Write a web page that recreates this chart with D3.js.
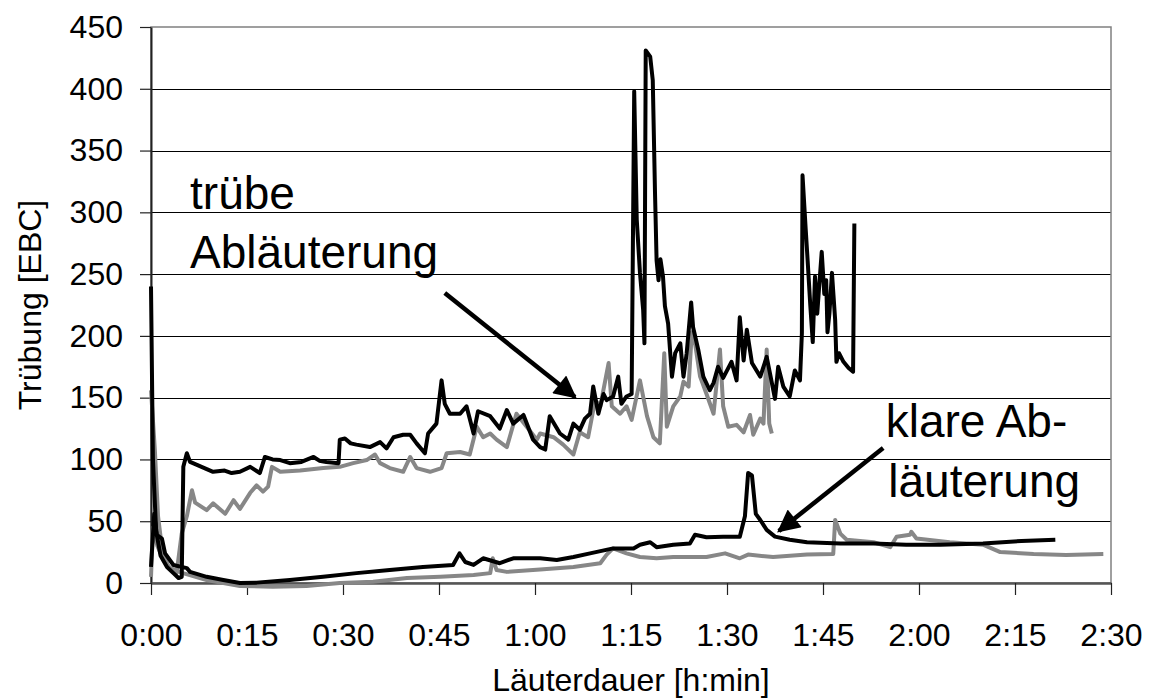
<!DOCTYPE html>
<html>
<head>
<meta charset="utf-8">
<script src="https://cdn.jsdelivr.net/npm/d3@7"></script>
<style>
  body { margin: 0; background: #fff; }
  text { font-family: "Liberation Sans", Arial, sans-serif; fill: #000; }
</style>
</head>
<body>
<div id="canvas"></div>
<script>
"use strict"

/* Configuration variables: drawing */
let svgWidth = 1153;
let svgHeight = 699;

let marginLeft = 151;
let marginRight = 42;
let marginTop = 27;
let marginBottom = 116;

// DATA: [minutes, EBC]
// trübe Abläuterung, black
let truebeBlack = [
  [0, 240], [0.3, 100], [0.8, 42], [1.5, 22], [2.5, 13], [3.5, 8], [4.3, 4], [4.8, 5],
  [5.05, 94], [5.6, 105], [6.1, 98], [7.9, 94], [9.7, 90], [11.5, 91], [12.6, 89], [13.9, 90], [15.5, 94],
  [17, 89], [17.8, 102], [19, 100], [20.2, 99.5], [21.7, 97], [23.5, 98], [25.4, 102], [26.3, 99], [27.4, 98], [29.3, 97],
  [29.5, 116], [30.3, 117], [31.2, 113], [32.1, 112], [34.2, 110], [35.8, 114], [36.8, 109], [37.9, 118],
  [39.4, 120], [40.5, 120], [41.5, 113], [42.8, 105], [43.3, 121], [44.6, 129], [45.4, 164],
  [45.9, 145], [46.7, 137], [48.3, 137], [49.3, 143], [50.4, 121], [51.1, 139], [53, 135],
  [54.5, 125], [55.6, 140], [56.6, 129], [58.2, 136], [59.7, 116], [60.8, 110], [61.6, 108],
  [62.3, 135], [63.9, 121], [65.2, 116], [66, 129], [67, 124], [67.8, 133], [68.6, 137],
  [69.1, 159], [69.9, 137], [70.7, 153], [71.2, 148], [72.2, 151], [73, 167], [73.5, 145],
  [74.3, 151], [75.1, 153], [75.5, 398], [75.9, 294], [76.4, 251], [76.9, 221], [77.1, 194],
  [77.3, 431], [78, 426], [78.4, 407], [78.75, 316], [79, 261], [79.3, 245], [79.6, 262],
  [80, 248], [80.3, 224], [80.8, 210], [81.4, 167], [81.9, 186], [82.7, 194], [83.2, 167],
  [83.7, 186], [84.4, 227], [84.7, 207], [85.5, 189], [86.3, 167], [87.3, 156], [87.9, 162],
  [88.6, 175], [89.4, 166], [90.7, 179], [91.5, 164], [92, 215], [92.6, 180], [93.1, 205],
  [93.9, 178], [95.2, 167], [96.2, 183], [96.7, 170], [97.5, 149], [98, 175], [98.8, 159],
  [99.8, 151], [100.6, 172], [101.4, 164], [101.7, 202], [101.8, 330], [102.3, 286], [102.6, 261],
  [103, 226], [103.4, 195], [103.75, 248], [104.1, 218], [104.4, 240], [104.8, 268], [105.2, 234],
  [105.5, 245], [105.7, 203], [106, 218], [106.4, 251], [106.9, 213], [107.1, 179], [107.5, 186],
  [108.2, 179], [109, 174], [109.7, 171], [109.9, 291]
];

// trübe Abläuterung, grey
let truebeGrey = [
  [0, 156], [0.6, 108], [1.1, 54], [1.7, 29], [2.7, 13], [4, 8], [4.8, 40], [5.6, 54],
  [6.4, 75], [6.9, 65], [8.7, 59], [9.7, 64.5], [11.6, 56], [12.9, 67], [13.9, 60], [15.5, 73],
  [16.5, 79], [17.5, 74], [18.3, 78], [18.9, 94], [20.2, 90], [23.3, 91], [26.9, 93], [29.5, 94],
  [31.6, 97], [33.7, 99.5], [35, 104], [35.8, 97], [37.3, 93], [39.4, 90], [40.5, 102], [41.5, 93],
  [43.6, 90], [45.4, 93], [46.2, 105], [48.3, 106], [49.8, 104], [50.9, 126.5], [51.9, 118],
  [53, 121], [54, 116], [55.6, 110], [57.1, 137], [58.7, 126.5], [60.3, 116], [60.8, 121],
  [62.9, 118], [64.4, 112], [66, 104], [67, 122], [68.3, 118], [69.4, 148], [70.2, 143],
  [71.5, 178], [72, 143], [73.3, 137], [74.3, 143], [75.1, 132], [76.4, 164], [77.5, 135],
  [78.5, 118], [79.5, 113], [80.2, 186], [80.6, 126.5], [81.6, 143], [82.7, 151], [83.2, 163],
  [84, 159], [84.5, 203], [85, 194], [85.8, 167], [86.8, 153], [87.9, 137], [88.9, 189],
  [89.4, 143], [90.2, 126.5], [91.5, 128], [92.6, 122], [93.6, 136], [94.1, 120], [95.2, 133],
  [95.7, 129], [96.2, 189], [96.6, 129], [97, 121]
];

// klare Abläuterung, black
let klarBlack = [
  [0, 13], [0.5, 56], [0.9, 39], [1.7, 36], [2.2, 24], [3.5, 14.6], [5.6, 12], [6.1, 9],
  [8.7, 5], [11.3, 2.4], [13.9, 0], [16.5, 0.3], [21.7, 2.4], [26.9, 5], [32.1, 8], [37.3, 10.5],
  [42.5, 13], [47.2, 14.6], [48.2, 24], [49.1, 17], [50.4, 14.6], [51.9, 20], [54.5, 16],
  [56.6, 20], [60.8, 20], [63.4, 18.6], [66, 21], [68.6, 24], [72.2, 28], [75.4, 28], [76.4, 31],
  [78, 33], [79, 29], [81.6, 31], [84.2, 32], [85, 39], [86.8, 37], [89.4, 37.5], [92, 37.5],
  [92.8, 54], [93.3, 89], [93.9, 87], [94.5, 56], [95.2, 51], [96.2, 43], [97.5, 37.5],
  [99.8, 35], [102.5, 33], [107.7, 32], [112.9, 32], [118, 31], [123.3, 31], [130, 32],
  [136, 34], [141.3, 35]
];

// klare Abläuterung, grey
let klarGrey = [
  [0, 5], [0.3, 45], [1, 30], [2, 18], [3, 12], [5, 8], [8.7, 2.4], [13.9, -2.4], [19, -3],
  [24.3, -2.4], [29.5, 0], [34.7, 1], [40, 4], [45.2, 5], [50.4, 6.5], [53, 8], [53.4, 20],
  [54, 10.5], [55.6, 9], [60.8, 11], [66, 13], [70.2, 16], [71.2, 23], [72.2, 28], [74.3, 24],
  [76.4, 21], [79, 20], [81.6, 21], [86.8, 21], [89.7, 24], [92, 20], [93.3, 23], [97.2, 21],
  [102.5, 23], [106.6, 23.5], [106.9, 51], [107.7, 40], [108.7, 35], [112.9, 33], [115.5, 29],
  [116.5, 37.5], [118.6, 39], [118.8, 41.5], [119.6, 36], [124.8, 33], [130, 31], [132.7, 25],
  [137.9, 23.5], [143, 22.7], [148.8, 23.5]
];

let yTicks = [0, 50, 100, 150, 200, 250, 300, 350, 400, 450];
let xTicks = [0, 15, 30, 45, 60, 75, 90, 105, 120, 135, 150];
let xTickLabels = ["0:00", "0:15", "0:30", "0:45", "1:00", "1:15", "1:30", "1:45", "2:00", "2:15", "2:30"];

// CANVAS SETUP
let svg = d3.select("#canvas")
  .append("svg")
  .attr("width", svgWidth)
  .attr("height", svgHeight);

svg.append("rect")
  .attr("width", svgWidth)
  .attr("height", svgHeight)
  .attr("fill", "white");

// scales
let xScale = d3.scaleLinear()
  .domain([0, 150])
  .range([marginLeft, svgWidth - marginRight]);

let yScale = d3.scaleLinear()
  .domain([0, 450])
  .range([svgHeight - marginBottom, marginTop]);

// gridlines
svg.selectAll(".grid")
  .data(yTicks.filter(function (d) { return d > 0 && d < 450 }))
  .join("line")
  .attr("class", "grid")
  .attr("x1", xScale(0))
  .attr("x2", xScale(150))
  .attr("y1", function (d) { return Math.round(yScale(d)) + 0.5 })
  .attr("y2", function (d) { return Math.round(yScale(d)) + 0.5 })
  .attr("stroke", "#000")
  .attr("stroke-width", 1);

// plot area border (grey)
svg.append("rect")
  .attr("x", xScale(0))
  .attr("y", yScale(450))
  .attr("width", xScale(150) - xScale(0))
  .attr("height", yScale(0) - yScale(450))
  .attr("fill", "none")
  .attr("stroke", "#808080")
  .attr("stroke-width", 1.5);

// y axis
let yAxis = d3.axisLeft(yScale)
  .tickValues(yTicks)
  .tickSize(11)
  .tickPadding(17)
  .tickSizeOuter(0);

let gy = svg.append("g")
  .attr("transform", "translate(" + xScale(0) + ",0)")
  .call(yAxis);
gy.select(".domain").attr("stroke", "#222").attr("stroke-width", 2);
gy.selectAll(".tick line").attr("stroke", "#222").attr("stroke-width", 1.2);
gy.selectAll(".tick text")
  .style("font-size", "32px")
  .attr("fill", "#000");

// x axis
let xAxis = d3.axisBottom(xScale)
  .tickValues(xTicks)
  .tickFormat(function (d, i) { return xTickLabels[i] })
  .tickSize(12)
  .tickPadding(28)
  .tickSizeOuter(0);

let gx = svg.append("g")
  .attr("transform", "translate(0," + yScale(0) + ")")
  .call(xAxis);
gx.select(".domain").attr("stroke", "#555").attr("stroke-width", 2.5);
gx.selectAll(".tick line").attr("stroke", "#222").attr("stroke-width", 1.2);
gx.selectAll(".tick text")
  .style("font-size", "32px")
  .attr("fill", "#000");

// the four curves
let line = d3.line()
  .x(function (d) { return xScale(d[0]) })
  .y(function (d) { return yScale(d[1]) });

let series = [
  { data: klarGrey, color: "#878787" },
  { data: truebeGrey, color: "#878787" },
  { data: klarBlack, color: "#000" },
  { data: truebeBlack, color: "#000" }
];

svg.selectAll(".curve")
  .data(series)
  .join("path")
  .attr("class", "curve")
  .attr("d", function (s) { return line(s.data) })
  .attr("fill", "none")
  .attr("stroke", function (s) { return s.color })
  .attr("stroke-width", 4)
  .attr("stroke-linejoin", "round");

// annotation arrows
svg.append("defs").append("marker")
  .attr("id", "head")
  .attr("viewBox", "0 0 10 10")
  .attr("refX", 9)
  .attr("refY", 5)
  .attr("markerWidth", 6)
  .attr("markerHeight", 5)
  .attr("markerUnits", "strokeWidth")
  .attr("orient", "auto")
  .append("path")
  .attr("d", "M0,0 L10,5 L0,10 z")
  .attr("fill", "#000");

let arrows = [
  { from: [45.9, 234.7], to: [66.25, 150.5] },
  { from: [114.4, 109.3], to: [98.1, 42.1] }
];

svg.selectAll(".arrow")
  .data(arrows)
  .join("line")
  .attr("class", "arrow")
  .attr("x1", function (a) { return xScale(a.from[0]) })
  .attr("y1", function (a) { return yScale(a.from[1]) })
  .attr("x2", function (a) { return xScale(a.to[0]) })
  .attr("y2", function (a) { return yScale(a.to[1]) })
  .attr("stroke", "#000")
  .attr("stroke-width", 4.5)
  .attr("marker-end", "url(#head)");

// annotation texts
let notes = [
  { text: "trübe", x: 6.1, y: 302.5 },
  { text: "Abläuterung", x: 6.1, y: 255 },
  { text: "klare Ab-", x: 114.8, y: 118 },
  { text: "läuterung", x: 115.2, y: 69.5 }
];

svg.selectAll(".note")
  .data(notes)
  .join("text")
  .attr("class", "note")
  .attr("x", function (n) { return xScale(n.x) })
  .attr("y", function (n) { return yScale(n.y) })
  .style("font-size", "46px")
  .text(function (n) { return n.text });

/**** label the axes ****/
svg.append("text")
  .attr("x", (xScale(0) + xScale(150)) / 2)
  .attr("y", 691)
  .style("text-anchor", "middle")
  .style("font-size", "32px")
  .text("Läuterdauer [h:min]");

svg.append("text")
  .attr("transform", "translate(41," + (yScale(0) + yScale(450)) / 2 + ") rotate(-90)")
  .style("text-anchor", "middle")
  .style("font-size", "32px")
  .text("Trübung [EBC]");
</script>
</body>
</html>
